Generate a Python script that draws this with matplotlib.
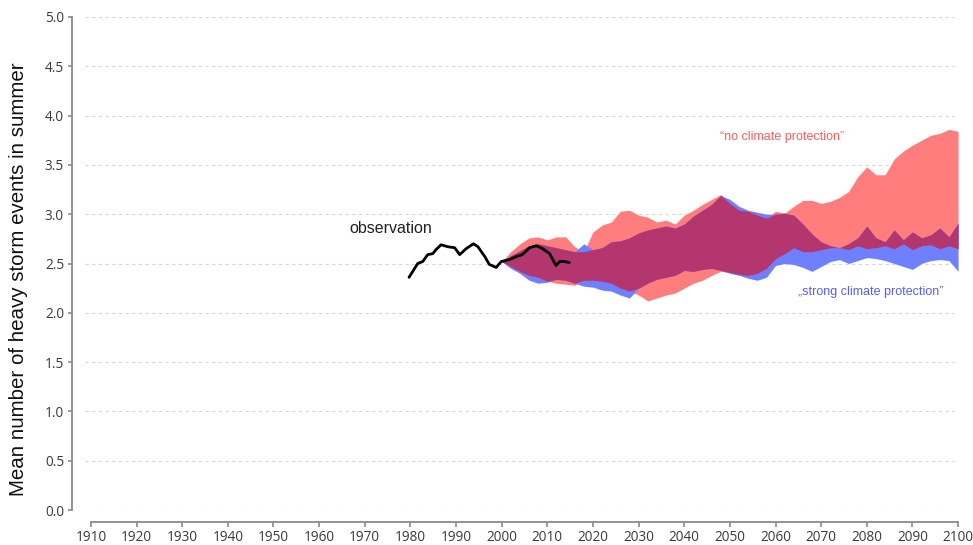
import numpy as np
import matplotlib
matplotlib.use("Agg")
import matplotlib.pyplot as plt

# Observed mean number of heavy storm events (running mean)
obs_years = [1979.7, 1981.6, 1982.7, 1983.8, 1984.9, 1985.6, 1986.7, 1988.2, 1989.7,
             1990.8, 1992.2, 1993.8, 1994.8, 1996.3, 1997.3, 1998.8, 1999.9, 2001.7,
             2003.2, 2004.5, 2006.1, 2007.6, 2009.0, 2010.5, 2011.9, 2012.7, 2013.7, 2014.8]
obs_values = [2.36, 2.50, 2.52, 2.59, 2.60, 2.64, 2.69, 2.67, 2.66,
              2.59, 2.65, 2.70, 2.67, 2.57, 2.49, 2.46, 2.52, 2.54,
              2.57, 2.59, 2.66, 2.68, 2.65, 2.60, 2.48, 2.52, 2.52, 2.51]

# Projection ranges, 2000-2100
proj_years = list(range(2000, 2101, 2))

# "no climate protection" range
red_upper = [2.52, 2.62, 2.70, 2.76, 2.77, 2.74, 2.77, 2.77, 2.67, 2.62,
             2.82, 2.89, 2.92, 3.03, 3.04, 2.99, 2.97, 2.92, 2.94, 2.90,
             2.99, 3.04, 3.10, 3.15, 3.20, 3.11, 3.04, 3.03, 2.99, 2.96,
             3.03, 3.01, 3.08, 3.14, 3.14, 3.11, 3.13, 3.17, 3.23, 3.38,
             3.48, 3.40, 3.40, 3.56, 3.64, 3.70, 3.75, 3.80, 3.82, 3.86,
             3.84]
red_lower = [2.52, 2.47, 2.42, 2.38, 2.36, 2.32, 2.30, 2.29, 2.28, 2.33,
             2.33, 2.32, 2.30, 2.25, 2.22, 2.18, 2.12, 2.15, 2.18, 2.20,
             2.25, 2.30, 2.33, 2.38, 2.42, 2.41, 2.39, 2.38, 2.40, 2.45,
             2.55, 2.60, 2.66, 2.62, 2.62, 2.64, 2.66, 2.66, 2.64, 2.68,
             2.65, 2.66, 2.68, 2.65, 2.70, 2.64, 2.68, 2.69, 2.65, 2.68,
             2.65]

# "strong climate protection" range
blue_upper = [2.52, 2.58, 2.63, 2.68, 2.70, 2.68, 2.66, 2.64, 2.62, 2.70,
              2.64, 2.66, 2.72, 2.73, 2.76, 2.81, 2.84, 2.86, 2.88, 2.86,
              2.90, 2.98, 3.04, 3.10, 3.19, 3.15, 3.08, 3.04, 3.02, 3.00,
              3.00, 3.01, 2.99, 2.90, 2.80, 2.72, 2.68, 2.66, 2.70, 2.76,
              2.88, 2.76, 2.72, 2.84, 2.74, 2.82, 2.76, 2.79, 2.86, 2.77,
              2.91]
blue_lower = [2.52, 2.45, 2.40, 2.33, 2.30, 2.31, 2.34, 2.33, 2.30, 2.27,
              2.26, 2.23, 2.22, 2.18, 2.15, 2.25, 2.30, 2.34, 2.36, 2.38,
              2.43, 2.42, 2.44, 2.45, 2.43, 2.40, 2.38, 2.35, 2.33, 2.36,
              2.48, 2.50, 2.49, 2.46, 2.42, 2.47, 2.52, 2.54, 2.50, 2.53,
              2.56, 2.55, 2.53, 2.50, 2.47, 2.44, 2.50, 2.53, 2.54, 2.53,
              2.42]

x_ticks = list(range(1910, 2101, 10))
y_ticks = [0.0, 0.5, 1.0, 1.5, 2.0, 2.5, 3.0, 3.5, 4.0, 4.5, 5.0]

RED = "#ff7d7d"
BLUE = "#6f80ff"
OVERLAP = "#b3366f"

W, H = 973, 545
PT = 72 / 100  # points per pixel at dpi 100
fig = plt.figure(figsize=(W / 100, H / 100), dpi=100)
ax = fig.add_axes([85 / W, 35 / H, 874 / W, 493 / H])

ax.set_xlim(1908.7, 2100.2)
ax.set_ylim(0, 5)

# dashed horizontal guides
for v in y_ticks:
    ax.plot([1908.7, 2099.2], [v, v], color="#d6d6d6", lw=0.8,
            dashes=(3, 3), zorder=0)

yrs = np.array(proj_years, dtype=float)
ru, rl = np.array(red_upper), np.array(red_lower)
bu, bl = np.array(blue_upper), np.array(blue_lower)

ax.fill_between(yrs, rl, ru, color=RED, lw=0, zorder=1)
ax.fill_between(yrs, bl, bu, color=BLUE, lw=0, zorder=2)
lo = np.maximum(rl, bl)
hi = np.minimum(ru, bu)
ax.fill_between(yrs, lo, hi, where=hi >= lo, interpolate=True,
                color=OVERLAP, lw=0, zorder=3)

ax.plot(obs_years, obs_values, color="black", lw=2.0, zorder=5,
        solid_joinstyle="round", solid_capstyle="round")

ax.text(1966.7, 2.85, "observation", fontsize=11.5, family="Liberation Sans",
        color="#222222", ha="left", va="center")
ax.text(2061.5, 3.78, "\u201cno climate protection\u201d", fontsize=9,
        family="Liberation Sans", color="#ff5c5c", ha="center", va="center")
ax.text(2080.8, 2.21, "\u201estrong climate protection\u201d", fontsize=9,
        family="Liberation Sans", color="#5a5cf0", ha="center", va="center")

# axes styling: detached spines
for s in ["top", "right"]:
    ax.spines[s].set_visible(False)
ax.spines["left"].set_position(("outward", 13 * PT))
ax.spines["bottom"].set_position(("outward", 12 * PT))
ax.spines["left"].set_bounds(0, 5)
ax.spines["bottom"].set_bounds(1910, 2100)
for s in ["left", "bottom"]:
    ax.spines[s].set_color("#8a8a8a")
    ax.spines[s].set_linewidth(1.3)

ax.set_xticks(x_ticks)
ax.set_xticklabels([str(t) for t in x_ticks])
ax.set_yticks(y_ticks)
ax.set_yticklabels([f"{t:.1f}" for t in y_ticks])
ax.tick_params(axis="both", colors="#8a8a8a", labelcolor="#3a3a3a",
               labelsize=9.8, width=1.2)
ax.tick_params(axis="x", length=5 * PT, pad=3 * PT)
ax.tick_params(axis="y", length=4 * PT, pad=4 * PT)
for lab in ax.get_xticklabels() + ax.get_yticklabels():
    lab.set_family("Open Sans")

ax.set_ylabel("Mean number of heavy storm events in summer", fontsize=14.8,
              family="Liberation Sans", color="#111111")
ax.yaxis.set_label_coords(-57 / 874, (510 - 279) / 493)

fig.savefig("out.png", dpi=100, facecolor="white")
